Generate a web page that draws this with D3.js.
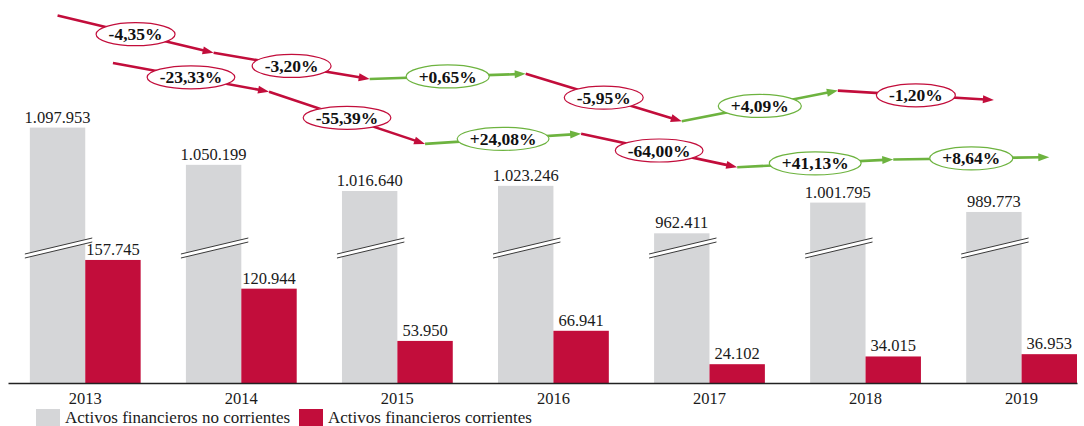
<!DOCTYPE html>
<html>
<head>
<meta charset="utf-8">
<script src="https://cdn.jsdelivr.net/npm/d3@7"></script>
<style>
  body { margin: 0; background: #fff; }
  svg { display: block; font-family: "Liberation Serif", "Times New Roman", serif; }
</style>
</head>
<body>
<svg id="chart"></svg>
<script>
// data
const years = ["2013", "2014", "2015", "2016", "2017", "2018", "2019"];
const noCorrientes = [1097953, 1050199, 1016640, 1023246, 962411, 1001795, 989773];
const corrientes = [157745, 120944, 53950, 66941, 24102, 34015, 36953];
const varNoCorrientes = [-4.35, -3.20, 0.65, -5.95, 4.09, -1.20];
const varCorrientes = [-23.33, -55.39, 24.08, -64.00, 41.13, 8.64];
const seriesNames = ["Activos financieros no corrientes", "Activos financieros corrientes"];

const W = 1084, H = 426;
const baseY = 383;
const RED = "#c20d3b", GRAY = "#d5d6d8", GREEN = "#6db33f";

const es = d3.formatLocale({ decimal: ",", thousands: ".", grouping: [3], currency: ["", "€"] });
const fmtNum = es.format(",d");
const fmtPct = v => (v > 0 ? "+" : "-") + es.format(".2f")(Math.abs(v)) + "%";

const svg = d3.select("#chart").attr("width", W).attr("height", H);

const x = d3.scaleBand().domain(years).range([8, 1077])
  .paddingInner(0.29).paddingOuter(0.07).align(1);
const xs = d3.scaleBand().domain(["nc", "c"]).range([0, x.bandwidth()]);

// red bars on a plain scale, gray bars on a broken (offset) scale
const yRed = d3.scaleLinear().domain([0, 200000]).range([baseY, baseY - 156]);
const yGray = d3.scaleLinear().domain([770500, 970500]).range([baseY, baseY - 156]);

const lineOffsetGray = 112, lineOffsetRed = 197;

// gray bars
svg.selectAll("rect.nc").data(years).enter().append("rect")
  .attr("class", "nc")
  .attr("x", d => x(d) + xs("nc"))
  .attr("y", (d, i) => yGray(noCorrientes[i]))
  .attr("width", xs.bandwidth())
  .attr("height", (d, i) => baseY - yGray(noCorrientes[i]))
  .attr("fill", GRAY);

// red bars
svg.selectAll("rect.c").data(years).enter().append("rect")
  .attr("class", "c")
  .attr("x", d => x(d) + xs("c"))
  .attr("y", (d, i) => yRed(corrientes[i]))
  .attr("width", xs.bandwidth())
  .attr("height", (d, i) => baseY - yRed(corrientes[i]))
  .attr("fill", RED);

// axis break marks on gray bars
const breakY = 248, breakRise = 16;
years.forEach(d => {
  const x0 = x(d) + xs("nc") - 5, x1 = x(d) + xs("nc") + xs.bandwidth() + 7;
  const g = svg.append("g");
  g.append("path")
    .attr("d", `M${x0},${breakY + 2 + breakRise / 2} L${x1},${breakY + 2 - breakRise / 2} L${x1},${breakY - 2 - breakRise / 2} L${x0},${breakY - 2 + breakRise / 2} Z`)
    .attr("fill", "#fff");
  [-2, 2].forEach(o => {
    g.append("line")
      .attr("x1", x0).attr("y1", breakY + o + breakRise / 2)
      .attr("x2", x1).attr("y2", breakY + o - breakRise / 2)
      .attr("stroke", "#3a3a3a").attr("stroke-width", 1);
  });
});

// value labels
svg.selectAll("text.lnc").data(years).enter().append("text")
  .attr("x", d => x(d) + xs("nc") + xs.bandwidth() / 2)
  .attr("y", (d, i) => yGray(noCorrientes[i]) - 5)
  .attr("text-anchor", "middle").attr("font-size", 16.5).attr("fill", "#1a1a1a")
  .text((d, i) => fmtNum(noCorrientes[i]));

svg.selectAll("text.lc").data(years).enter().append("text")
  .attr("x", d => x(d) + xs("c") + xs.bandwidth() / 2)
  .attr("y", (d, i) => yRed(corrientes[i]) - 5)
  .attr("text-anchor", "middle").attr("font-size", 16.5).attr("fill", "#1a1a1a")
  .text((d, i) => fmtNum(corrientes[i]));

// x axis
const ax = svg.append("g").attr("transform", `translate(0,${baseY})`)
  .call(d3.axisBottom(x).tickSize(0).tickSizeOuter(0).tickPadding(9));
ax.select(".domain").attr("stroke", "#222").attr("stroke-width", 1.5);
ax.selectAll("text").attr("font-size", 16.5).attr("fill", "#1a1a1a")
  .attr("font-family", "Liberation Serif, Times New Roman, serif");

// variation arrows
function drawArrows(values, vars, sub, scale, offset) {
  const pts = years.map((d, i) => [x(d) + xs(sub) + xs.bandwidth() / 2, scale(values[i]) - offset]);
  const g = svg.append("g");
  vars.forEach((v, i) => {
    const [x1, y1] = pts[i], [x2, y2] = pts[i + 1];
    const col = v < 0 ? RED : GREEN;
    const ang = Math.atan2(y2 - y1, x2 - x1);
    const head = 11;
    g.append("line")
      .attr("x1", x1).attr("y1", y1)
      .attr("x2", x2 - head * 0.8 * Math.cos(ang)).attr("y2", y2 - head * 0.8 * Math.sin(ang))
      .attr("stroke", col).attr("stroke-width", 2.6);
    g.append("path")
      .attr("d", `M0,0 L${-head},${-4} L${-head},${4} Z`)
      .attr("transform", `translate(${x2},${y2}) rotate(${ang * 180 / Math.PI})`)
      .attr("fill", col);
  });
  vars.forEach((v, i) => {
    const [x1, y1] = pts[i], [x2, y2] = pts[i + 1];
    const col = v < 0 ? RED : GREEN;
    const cx = (x1 + x2) / 2, cy = (y1 + y2) / 2;
    const el = g.append("ellipse").attr("cx", cx).attr("cy", cy)
      .attr("ry", 11.5).attr("fill", "#fff").attr("stroke", col).attr("stroke-width", 1.2);
    const t = g.append("text").attr("x", cx).attr("y", cy).attr("dy", "0.35em")
      .attr("text-anchor", "middle").attr("font-size", 17.5).attr("font-weight", "bold")
      .attr("fill", "#111").text(fmtPct(v));
    el.attr("rx", t.node().getComputedTextLength() / 2 + 12.5);
  });
}
drawArrows(noCorrientes, varNoCorrientes, "nc", yGray, lineOffsetGray);
drawArrows(corrientes, varCorrientes, "c", yRed, lineOffsetRed);

// legend
const leg = svg.append("g");
const legItems = [
  { name: seriesNames[0], color: GRAY, x: 36 },
  { name: seriesNames[1], color: RED, x: 299 }
];
legItems.forEach(it => {
  leg.append("rect").attr("x", it.x).attr("y", 409).attr("width", 24).attr("height", 18).attr("fill", it.color);
  leg.append("text").attr("x", it.x + 29).attr("y", 423).attr("font-size", 17)
    .attr("fill", "#1a1a1a").text(it.name);
});
</script>
</body>
</html>
